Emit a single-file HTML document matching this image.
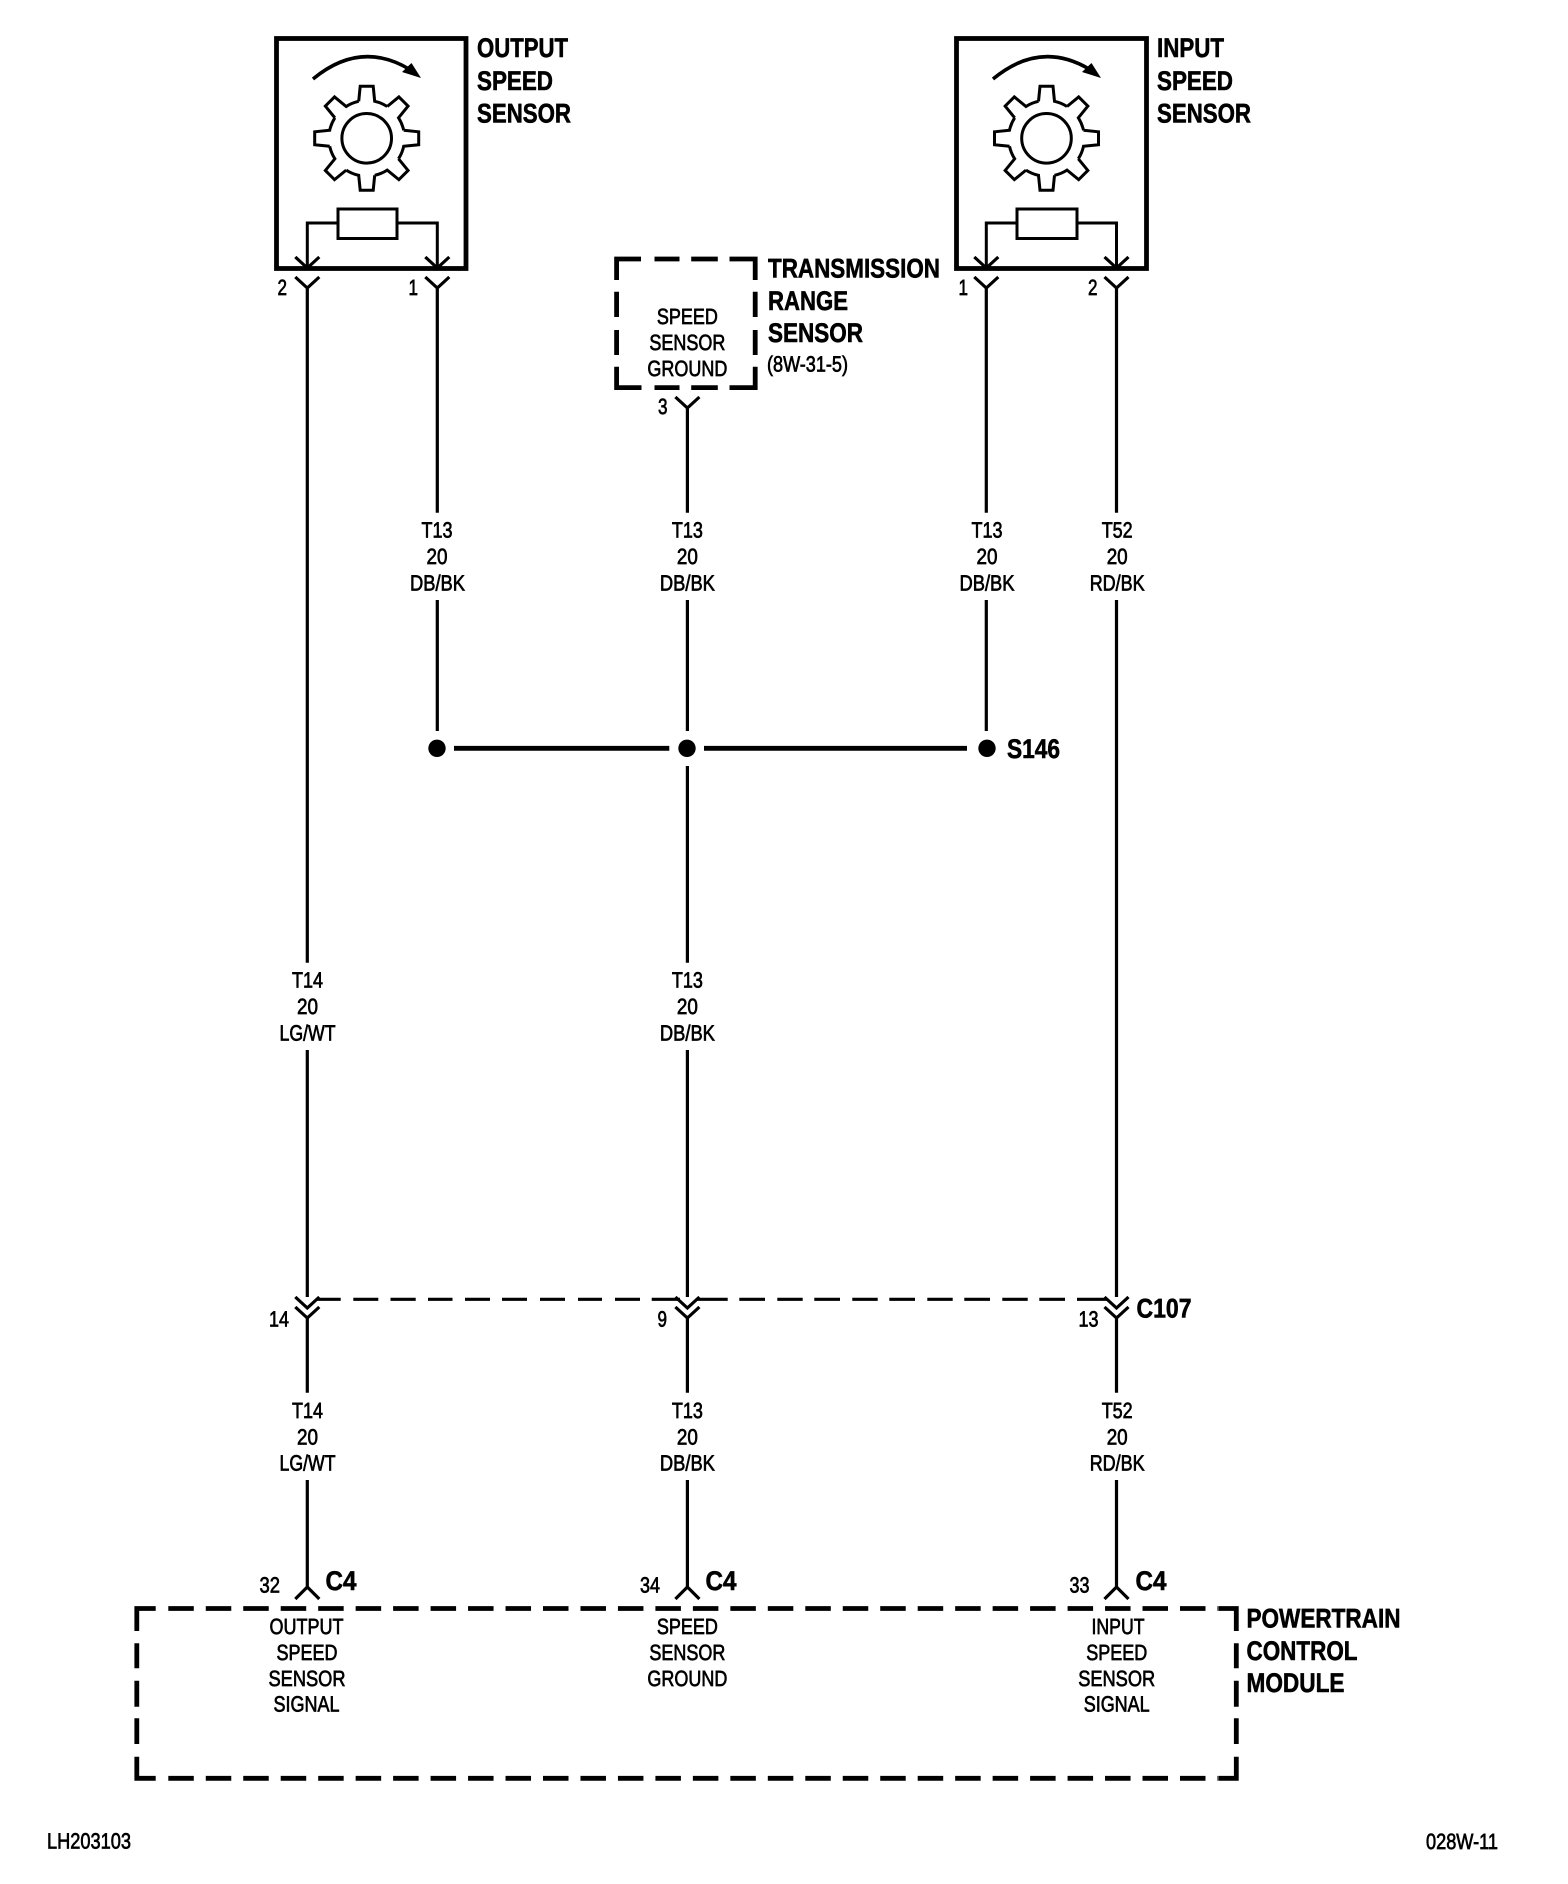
<!DOCTYPE html>
<html lang="en">
<head>
<meta charset="utf-8">
<title>Speed Sensor Wiring Diagram</title>
<style>
html,body{margin:0;padding:0;background:#fff}
svg{display:block}
text{font-family:"Liberation Sans",Arial,sans-serif;fill:#000;text-rendering:geometricPrecision}
.s{font-size:22px;stroke:#000;stroke-width:.7px}
.h{font-size:27px;font-weight:bold;stroke:#000;stroke-width:.6px}
.m{text-anchor:middle}
.w{fill:none;stroke:#000;stroke-width:3.2}
.t{fill:none;stroke:#000;stroke-width:3}
.c{fill:none;stroke:#000;stroke-width:3.6}
.b{fill:none;stroke:#000;stroke-width:4.8}
</style>
</head>
<body>
<svg xmlns="http://www.w3.org/2000/svg" width="1568" height="1884" viewBox="0 0 1568 1884">
<defs>
  <g id="gt"><path class="t" d="M-8-37 L-6.5-52 L6.5-52 L8-37 A37 37 0 0 1 20.5-31.8"/></g>
  <g id="gear">
    <use href="#gt"/>
    <use href="#gt" transform="rotate(45)"/>
    <use href="#gt" transform="rotate(90)"/>
    <use href="#gt" transform="rotate(135)"/>
    <use href="#gt" transform="rotate(180)"/>
    <use href="#gt" transform="rotate(225)"/>
    <use href="#gt" transform="rotate(270)"/>
    <use href="#gt" transform="rotate(315)"/>
    <circle class="t" cx="0" cy="0" r="24.8"/>
  </g>
  <path id="v" class="w" d="M-12-11 L0 0 L12-11"/>
  <path id="a" class="w" d="M-12 12 L0 0 L12 12"/>
</defs>

<!-- Output speed sensor -->
<rect class="b" x="276.5" y="38.5" width="189.5" height="230"/>
<path class="c" d="M313 79 Q360 40 409 69"/>
<path d="M421 78 L411.5 63 L402 72 Z" fill="#000"/>
<use href="#gear" transform="translate(366.7 138.3)"/>
<rect class="t" x="338" y="209" width="59" height="29.5"/>
<path class="t" d="M338 223 H307.3 V268 M397 223 H437.3 V268"/>
<use href="#v" transform="translate(307.3 268)"/>
<use href="#v" transform="translate(437.3 268)"/>
<use href="#v" transform="translate(307.3 288)"/>
<use href="#v" transform="translate(437.3 288)"/>
<text class="h" x="477" y="57" textLength="91" lengthAdjust="spacingAndGlyphs">OUTPUT</text>
<text class="h" x="477" y="90" textLength="76" lengthAdjust="spacingAndGlyphs">SPEED</text>
<text class="h" x="477" y="122.5" textLength="94" lengthAdjust="spacingAndGlyphs">SENSOR</text>
<text class="s" x="277.5" y="295" textLength="9.5" lengthAdjust="spacingAndGlyphs">2</text>
<text class="s" x="408.5" y="295" textLength="9.5" lengthAdjust="spacingAndGlyphs">1</text>

<!-- Input speed sensor -->
<rect class="b" x="956.5" y="38.5" width="190" height="230"/>
<path class="c" d="M993 79 Q1040 40 1089 69"/>
<path d="M1101 78 L1091.5 63 L1082 72 Z" fill="#000"/>
<use href="#gear" transform="translate(1046.5 138.3)"/>
<rect class="t" x="1017" y="209" width="60" height="29.5"/>
<path class="t" d="M1017 223 H986.3 V268 M1077 223 H1116.5 V268"/>
<use href="#v" transform="translate(986.3 268)"/>
<use href="#v" transform="translate(1116.5 268)"/>
<use href="#v" transform="translate(986.3 288)"/>
<use href="#v" transform="translate(1116.5 288)"/>
<text class="h" x="1157" y="57" textLength="67" lengthAdjust="spacingAndGlyphs">INPUT</text>
<text class="h" x="1157" y="90" textLength="76" lengthAdjust="spacingAndGlyphs">SPEED</text>
<text class="h" x="1157" y="122.5" textLength="94" lengthAdjust="spacingAndGlyphs">SENSOR</text>
<text class="s" x="958.5" y="295" textLength="9.5" lengthAdjust="spacingAndGlyphs">1</text>
<text class="s" x="1088" y="295" textLength="9.5" lengthAdjust="spacingAndGlyphs">2</text>

<!-- Transmission range sensor -->
<path class="b" d="M616.6 280 V259 H641 M654.5 259 H679.5 M691.2 259 H717.8 M729.5 259 H755.2 V280 M755.2 291.7 V317 M755.2 330 V355 M755.2 366.7 V387.6 H729.5 M717.8 387.6 H691.2 M679.5 387.6 H654.5 M641.5 387.6 H616.6 V366.7 M616.6 355 V330 M616.6 317 V291.7"/>
<text class="s m" x="687.4" y="324" textLength="61" lengthAdjust="spacingAndGlyphs">SPEED</text>
<text class="s m" x="687.4" y="350" textLength="76" lengthAdjust="spacingAndGlyphs">SENSOR</text>
<text class="s m" x="687.4" y="376" textLength="80" lengthAdjust="spacingAndGlyphs">GROUND</text>
<text class="h" x="768" y="277.5" textLength="172" lengthAdjust="spacingAndGlyphs">TRANSMISSION</text>
<text class="h" x="768" y="309.8" textLength="80" lengthAdjust="spacingAndGlyphs">RANGE</text>
<text class="h" x="768" y="342" textLength="95" lengthAdjust="spacingAndGlyphs">SENSOR</text>
<text class="s" x="767" y="371.5" textLength="81" lengthAdjust="spacingAndGlyphs">(8W-31-5)</text>
<use href="#v" transform="translate(687.4 408)"/>
<text class="s" x="658" y="414" textLength="9.5" lengthAdjust="spacingAndGlyphs">3</text>

<!-- Wires -->
<path class="w" d="M307.3 288 V962.7 M307.3 1050 V1297"/>
<path class="w" d="M437.3 288 V512.7 M437.3 600 V731"/>
<path class="w" d="M687.4 408 V512.7 M687.4 600 V731 M687.4 766 V962.7 M687.4 1050 V1297"/>
<path class="w" d="M986.3 288 V512.7 M986.3 600 V731"/>
<path class="w" d="M1116.5 288 V512.7 M1116.5 600 V1297"/>
<path class="w" d="M307.3 1317 V1392.7 M307.3 1480 V1588"/>
<path class="w" d="M687.4 1317 V1392.7 M687.4 1480 V1588"/>
<path class="w" d="M1116.5 1317 V1392.7 M1116.5 1480 V1588"/>

<!-- Splice S146 -->
<circle cx="437" cy="748.3" r="8.7"/>
<circle cx="687" cy="748.3" r="8.7"/>
<circle cx="987" cy="748.3" r="8.7"/>
<path class="b" d="M454 748.3 H669.3 M704 748.3 H967"/>
<text class="h" x="1007" y="758" textLength="53" lengthAdjust="spacingAndGlyphs">S146</text>

<!-- Wire labels, upper -->
<text class="s m" x="437" y="537.6" textLength="31" lengthAdjust="spacingAndGlyphs">T13</text>
<text class="s m" x="437" y="563.8" textLength="21" lengthAdjust="spacingAndGlyphs">20</text>
<text class="s m" x="437.5" y="590.4" textLength="55" lengthAdjust="spacingAndGlyphs">DB/BK</text>
<text class="s m" x="687.4" y="537.6" textLength="31" lengthAdjust="spacingAndGlyphs">T13</text>
<text class="s m" x="687.4" y="563.8" textLength="21" lengthAdjust="spacingAndGlyphs">20</text>
<text class="s m" x="687.4" y="590.4" textLength="55" lengthAdjust="spacingAndGlyphs">DB/BK</text>
<text class="s m" x="987" y="537.6" textLength="31" lengthAdjust="spacingAndGlyphs">T13</text>
<text class="s m" x="987" y="563.8" textLength="21" lengthAdjust="spacingAndGlyphs">20</text>
<text class="s m" x="987" y="590.4" textLength="55" lengthAdjust="spacingAndGlyphs">DB/BK</text>
<text class="s m" x="1117.2" y="537.6" textLength="31" lengthAdjust="spacingAndGlyphs">T52</text>
<text class="s m" x="1117.2" y="563.8" textLength="21" lengthAdjust="spacingAndGlyphs">20</text>
<text class="s m" x="1117.2" y="590.4" textLength="55" lengthAdjust="spacingAndGlyphs">RD/BK</text>

<!-- Wire labels, middle -->
<text class="s m" x="307.5" y="987.6" textLength="31" lengthAdjust="spacingAndGlyphs">T14</text>
<text class="s m" x="307.5" y="1013.8" textLength="21" lengthAdjust="spacingAndGlyphs">20</text>
<text class="s m" x="307.5" y="1040.4" textLength="56" lengthAdjust="spacingAndGlyphs">LG/WT</text>
<text class="s m" x="687.4" y="987.6" textLength="31" lengthAdjust="spacingAndGlyphs">T13</text>
<text class="s m" x="687.4" y="1013.8" textLength="21" lengthAdjust="spacingAndGlyphs">20</text>
<text class="s m" x="687.4" y="1040.4" textLength="55" lengthAdjust="spacingAndGlyphs">DB/BK</text>

<!-- C107 -->
<use href="#v" transform="translate(307.3 1308)"/>
<use href="#v" transform="translate(307.3 1318)"/>
<use href="#v" transform="translate(687.4 1308)"/>
<use href="#v" transform="translate(687.4 1318)"/>
<use href="#v" transform="translate(1116.5 1308)"/>
<use href="#v" transform="translate(1116.5 1318)"/>
<path class="w" d="M317 1299.3 H340.7 M353.3 1299.3 H378.3 M390.5 1299.3 H415.7 M428 1299.3 H452.5 M465 1299.3 H490 M502 1299.3 H527 M540 1299.3 H565 M578 1299.3 H602 M615 1299.3 H640 M651.7 1299.3 H680 M697 1299.3 H727.7 M739.3 1299.3 H765 M777.3 1299.3 H802.7 M814.3 1299.3 H840 M852.3 1299.3 H877.7 M889.3 1299.3 H915 M927.3 1299.3 H952.7 M964.3 1299.3 H990 M1002.3 1299.3 H1027.7 M1039.3 1299.3 H1065 M1077 1299.3 H1107"/>
<text class="h" x="1136.5" y="1317.5" textLength="55" lengthAdjust="spacingAndGlyphs">C107</text>
<text class="s" x="269" y="1326.7" textLength="20" lengthAdjust="spacingAndGlyphs">14</text>
<text class="s" x="657.5" y="1326.7" textLength="9.5" lengthAdjust="spacingAndGlyphs">9</text>
<text class="s" x="1078.5" y="1326.7" textLength="20" lengthAdjust="spacingAndGlyphs">13</text>

<!-- Wire labels, lower -->
<text class="s m" x="307.5" y="1418" textLength="31" lengthAdjust="spacingAndGlyphs">T14</text>
<text class="s m" x="307.5" y="1444.4" textLength="21" lengthAdjust="spacingAndGlyphs">20</text>
<text class="s m" x="307.5" y="1470.4" textLength="56" lengthAdjust="spacingAndGlyphs">LG/WT</text>
<text class="s m" x="687.4" y="1418" textLength="31" lengthAdjust="spacingAndGlyphs">T13</text>
<text class="s m" x="687.4" y="1444.4" textLength="21" lengthAdjust="spacingAndGlyphs">20</text>
<text class="s m" x="687.4" y="1470.4" textLength="55" lengthAdjust="spacingAndGlyphs">DB/BK</text>
<text class="s m" x="1117.2" y="1418" textLength="31" lengthAdjust="spacingAndGlyphs">T52</text>
<text class="s m" x="1117.2" y="1444.4" textLength="21" lengthAdjust="spacingAndGlyphs">20</text>
<text class="s m" x="1117.2" y="1470.4" textLength="55" lengthAdjust="spacingAndGlyphs">RD/BK</text>

<!-- C4 connectors -->
<use href="#a" transform="translate(307.3 1587)"/>
<use href="#a" transform="translate(687.4 1587)"/>
<use href="#a" transform="translate(1116.5 1587)"/>
<text class="s" x="259.5" y="1592.3" textLength="20.5" lengthAdjust="spacingAndGlyphs">32</text>
<text class="s" x="640" y="1592.3" textLength="20" lengthAdjust="spacingAndGlyphs">34</text>
<text class="s" x="1069.5" y="1592.3" textLength="20" lengthAdjust="spacingAndGlyphs">33</text>
<text class="h" x="325.5" y="1590" textLength="31" lengthAdjust="spacingAndGlyphs">C4</text>
<text class="h" x="705.5" y="1590" textLength="31" lengthAdjust="spacingAndGlyphs">C4</text>
<text class="h" x="1135.5" y="1590" textLength="31" lengthAdjust="spacingAndGlyphs">C4</text>

<!-- PCM dashed box -->
<path class="b" stroke-dasharray="25.5 11.97" d="M168.3 1608.5 H1218"/>
<path class="b" stroke-dasharray="25.5 11.97" d="M168.3 1778.3 H1218"/>
<path class="b" d="M136.8 1631 V1608.5 H155.7 M1218.3 1608.5 H1236.3 V1631 M136.8 1756.7 V1778.3 H155.7 M1218.3 1778.3 H1236.3 V1756.7"/>
<path class="b" d="M136.8 1643.3 V1668.3 M136.8 1680.7 V1706.7 M136.8 1718.3 V1744 M1236.3 1643.3 V1668.3 M1236.3 1680.7 V1706.7 M1236.3 1718.3 V1744"/>

<text class="s m" x="306.5" y="1634" textLength="74" lengthAdjust="spacingAndGlyphs">OUTPUT</text>
<text class="s m" x="307" y="1660" textLength="61" lengthAdjust="spacingAndGlyphs">SPEED</text>
<text class="s m" x="307" y="1686" textLength="77" lengthAdjust="spacingAndGlyphs">SENSOR</text>
<text class="s m" x="306.5" y="1711.7" textLength="66" lengthAdjust="spacingAndGlyphs">SIGNAL</text>

<text class="s m" x="687.4" y="1634" textLength="61" lengthAdjust="spacingAndGlyphs">SPEED</text>
<text class="s m" x="687.4" y="1660" textLength="76" lengthAdjust="spacingAndGlyphs">SENSOR</text>
<text class="s m" x="687.4" y="1686" textLength="80" lengthAdjust="spacingAndGlyphs">GROUND</text>

<text class="s m" x="1118" y="1634" textLength="53" lengthAdjust="spacingAndGlyphs">INPUT</text>
<text class="s m" x="1116.7" y="1660" textLength="61" lengthAdjust="spacingAndGlyphs">SPEED</text>
<text class="s m" x="1116.7" y="1686" textLength="77" lengthAdjust="spacingAndGlyphs">SENSOR</text>
<text class="s m" x="1116.7" y="1711.7" textLength="66" lengthAdjust="spacingAndGlyphs">SIGNAL</text>

<text class="h" x="1246.5" y="1627.3" textLength="154" lengthAdjust="spacingAndGlyphs">POWERTRAIN</text>
<text class="h" x="1246.5" y="1660" textLength="111" lengthAdjust="spacingAndGlyphs">CONTROL</text>
<text class="h" x="1246.5" y="1692" textLength="98" lengthAdjust="spacingAndGlyphs">MODULE</text>

<!-- Footer -->
<text class="s" x="47" y="1848.3" textLength="84" lengthAdjust="spacingAndGlyphs">LH203103</text>
<text class="s" x="1426" y="1849" textLength="72" lengthAdjust="spacingAndGlyphs">028W-11</text>
</svg>
</body>
</html>
